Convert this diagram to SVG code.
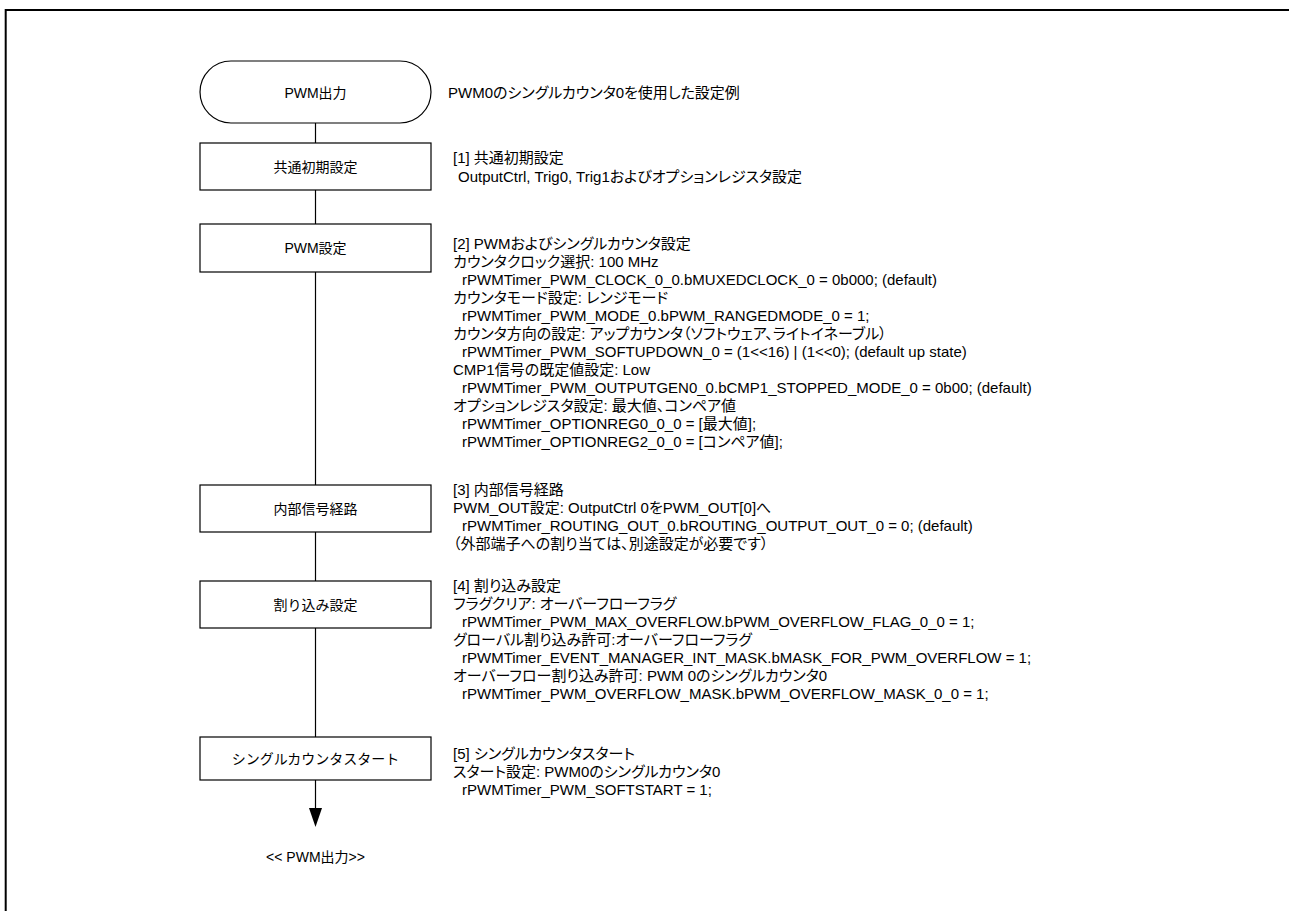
<svg xmlns="http://www.w3.org/2000/svg" width="1289" height="911" viewBox="0 0 1289 911">
<style>
.node{fill:#fff;stroke:#000;stroke-width:1.2}
.t{font-family:"Liberation Sans","Noto Sans CJK JP",sans-serif;font-size:14px;fill:#000;dominant-baseline:central}
.n{font-size:15px;font-feature-settings:"palt" 1}
.c{text-anchor:middle}
.ln{stroke:#000;stroke-width:1.2;fill:none}
</style>
<rect width="1289" height="911" fill="#fff"/>
<path d="M5.7,920 V10 H1300" fill="none" stroke="#000" stroke-width="2"/>

<g id="connectors">
<line class="ln" x1="315.5" y1="123" x2="315.5" y2="143"/>
<line class="ln" x1="315.5" y1="190" x2="315.5" y2="224"/>
<line class="ln" x1="315.5" y1="272" x2="315.5" y2="485"/>
<line class="ln" x1="315.5" y1="532" x2="315.5" y2="581"/>
<line class="ln" x1="315.5" y1="628" x2="315.5" y2="737"/>
<line class="ln" x1="315.5" y1="780" x2="315.5" y2="810"/>
<path d="M309,808 L322,808 L315.5,827 Z" fill="#000"/>
</g>

<g id="n0">
<rect class="node" x="200" y="61" width="231" height="62" rx="31" ry="31"/>
<text class="t c" x="315.5" y="93">PWM出力</text>
</g>
<g id="n1">
<rect class="node" x="200" y="143" width="231" height="47"/>
<text class="t c" x="315.5" y="166.5">共通初期設定</text>
</g>
<g id="n2">
<rect class="node" x="200" y="224" width="231" height="48"/>
<text class="t c" x="315.5" y="248">PWM設定</text>
</g>
<g id="n3">
<rect class="node" x="200" y="485" width="231" height="47"/>
<text class="t c" x="315.5" y="508.5">内部信号経路</text>
</g>
<g id="n4">
<rect class="node" x="200" y="581" width="231" height="47"/>
<text class="t c" x="315.5" y="604.5">割り込み設定</text>
</g>
<g id="n5">
<rect class="node" x="200" y="737" width="231" height="43"/>
<text class="t c" x="315.5" y="758.5">シングルカウンタスタート</text>
</g>
<g id="end">
<text class="t c" x="315.5" y="857">&lt;&lt; PWM出力&gt;&gt;</text>
</g>

<g id="notes">
<text class="t n" x="448" y="92">PWM0のシングルカウンタ0を使用した設定例</text>

<text class="t n" x="453" y="157">[1] 共通初期設定</text>
<text class="t n" x="458" y="176">OutputCtrl, Trig0, Trig1およびオプションレジスタ設定</text>

<text class="t n" x="453" y="243">[2] PWMおよびシングルカウンタ設定</text>
<text class="t n" x="453" y="261">カウンタクロック選択: 100 MHz</text>
<text class="t n" x="462" y="279">rPWMTimer_PWM_CLOCK_0_0.bMUXEDCLOCK_0 = 0b000; (default)</text>
<text class="t n" x="453" y="297">カウンタモード設定: レンジモード</text>
<text class="t n" x="462" y="315">rPWMTimer_PWM_MODE_0.bPWM_RANGEDMODE_0 = 1;</text>
<text class="t n" x="453" y="333">カウンタ方向の設定: アップカウンタ（ソフトウェア、ライトイネーブル）</text>
<text class="t n" x="462" y="351">rPWMTimer_PWM_SOFTUPDOWN_0 = (1&lt;&lt;16) | (1&lt;&lt;0); (default up state)</text>
<text class="t n" x="453" y="369">CMP1信号の既定値設定: Low</text>
<text class="t n" x="462" y="387">rPWMTimer_PWM_OUTPUTGEN0_0.bCMP1_STOPPED_MODE_0 = 0b00; (default)</text>
<text class="t n" x="453" y="405">オプションレジスタ設定: 最大値、コンペア値</text>
<text class="t n" x="462" y="423">rPWMTimer_OPTIONREG0_0_0 = [最大値];</text>
<text class="t n" x="462" y="441">rPWMTimer_OPTIONREG2_0_0 = [コンペア値];</text>

<text class="t n" x="453" y="489">[3] 内部信号経路</text>
<text class="t n" x="453" y="507">PWM_OUT設定: OutputCtrl 0をPWM_OUT[0]へ</text>
<text class="t n" x="462" y="525">rPWMTimer_ROUTING_OUT_0.bROUTING_OUTPUT_OUT_0 = 0; (default)</text>
<text class="t n" x="453" y="543">（外部端子への割り当ては、別途設定が必要です）</text>

<text class="t n" x="453" y="585">[4] 割り込み設定</text>
<text class="t n" x="453" y="603">フラグクリア: オーバーフローフラグ</text>
<text class="t n" x="462" y="621">rPWMTimer_PWM_MAX_OVERFLOW.bPWM_OVERFLOW_FLAG_0_0 = 1;</text>
<text class="t n" x="453" y="639">グローバル割り込み許可:オーバーフローフラグ</text>
<text class="t n" x="462" y="657">rPWMTimer_EVENT_MANAGER_INT_MASK.bMASK_FOR_PWM_OVERFLOW = 1;</text>
<text class="t n" x="453" y="675">オーバーフロー割り込み許可: PWM 0のシングルカウンタ0</text>
<text class="t n" x="462" y="693">rPWMTimer_PWM_OVERFLOW_MASK.bPWM_OVERFLOW_MASK_0_0 = 1;</text>

<text class="t n" x="453" y="753">[5] シングルカウンタスタート</text>
<text class="t n" x="453" y="771">スタート設定: PWM0のシングルカウンタ0</text>
<text class="t n" x="462" y="789">rPWMTimer_PWM_SOFTSTART = 1;</text>
</g>
</svg>
